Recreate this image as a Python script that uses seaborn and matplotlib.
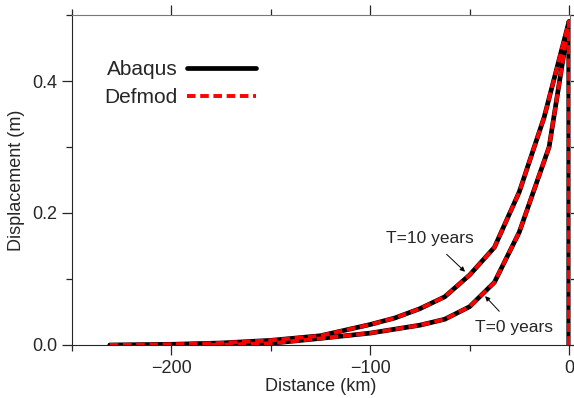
import matplotlib
matplotlib.use('Agg')
import matplotlib.pyplot as plt
import pandas as pd
import seaborn as sns
from matplotlib.ticker import MultipleLocator, FuncFormatter

# distance (km) and displacement (m)
dist_t10 = [-231, -200, -175, -150, -125, -100, -87.5, -75, -62.5, -50, -37.5, -25, -12.5, 0, 0]
disp_t10 = [0.0, 0.001, 0.003, 0.007, 0.014, 0.031, 0.041, 0.055, 0.073, 0.106, 0.148, 0.232, 0.345, 0.49, 0.0]

dist_t0 = [-180, -150, -125, -100, -75, -62.5, -50, -37.5, -25, -10, 0, 0]
disp_t0 = [0.0, 0.0025, 0.010, 0.018, 0.030, 0.039, 0.058, 0.095, 0.171, 0.30, 0.49, 0.0]

rows = []
for model in ['Abaqus', 'Defmod']:
    for d, u in zip(dist_t10, disp_t10):
        rows.append((model, 'T=10', d, u))
    for d, u in zip(dist_t0, disp_t0):
        rows.append((model, 'T=0', d, u))
df = pd.DataFrame(rows, columns=['model', 'time', 'distance', 'disp'])

sns.set_style('ticks')
plt.rcParams['font.family'] = ['Liberation Sans', 'DejaVu Sans']

fig = plt.figure(figsize=(5.74, 3.98), dpi=100)
ax = fig.add_axes([0.1254, 0.1332, 0.8676, 0.8291])

for t in ['T=10', 'T=0']:
    sub = df[(df.model == 'Abaqus') & (df.time == t)]
    sns.lineplot(data=sub, x='distance', y='disp', ax=ax, color='black', linewidth=3.4,
                 estimator=None, sort=False, label='Abaqus' if t == 'T=10' else None)
for t in ['T=10', 'T=0']:
    sub = df[(df.model == 'Defmod') & (df.time == t)]
    sns.lineplot(data=sub, x='distance', y='disp', ax=ax, color='red', linewidth=2.8,
                 estimator=None, sort=False, label='Defmod' if t == 'T=10' else None,
                 linestyle=(0, (2.2, 1.2)))

ax.set_xlim(-250, 0.5)
ax.set_ylim(0, 0.5)
ax.xaxis.set_major_locator(MultipleLocator(100))
ax.xaxis.set_minor_locator(MultipleLocator(50))
ax.yaxis.set_major_locator(MultipleLocator(0.2))
ax.yaxis.set_minor_locator(MultipleLocator(0.1))
ax.tick_params(which='both', direction='out', top=True, right=True, labelsize=13, width=0.9)
ax.tick_params(which='major', length=7)
ax.tick_params(which='minor', length=4)
ax.xaxis.set_major_formatter(FuncFormatter(lambda v, p: ('%d' % v).replace('-', '\u2212')))
ax.yaxis.set_major_formatter(FuncFormatter(lambda v, p: '%.1f' % v))
for s in ['top', 'right']:
    ax.spines[s].set_color('#777777')
ax.set_xlabel('Distance (km)', fontsize=13, labelpad=1)
ax.set_ylabel('Displacement (m)', fontsize=13, labelpad=5)

ax.legend(loc='upper left', bbox_to_anchor=(0.027, 0.92), frameon=False, markerfirst=False,
          fontsize=15, handlelength=3.3, handletextpad=0.45, labelspacing=0.42)

ax.annotate('T=10 years', xy=(-52.3, 0.111), xytext=(-69.8, 0.161), fontsize=12.5,
            ha='center', va='center',
            arrowprops=dict(arrowstyle='-|>', color='black', lw=0.7, mutation_scale=7, shrinkA=5, shrinkB=0))
ax.annotate('T=0 years', xy=(-42.2, 0.074), xytext=(-27.6, 0.027), fontsize=12.5,
            ha='center', va='center',
            arrowprops=dict(arrowstyle='-|>', color='black', lw=0.7, mutation_scale=7, shrinkA=5, shrinkB=0))

plt.savefig('out.png', dpi=100)
